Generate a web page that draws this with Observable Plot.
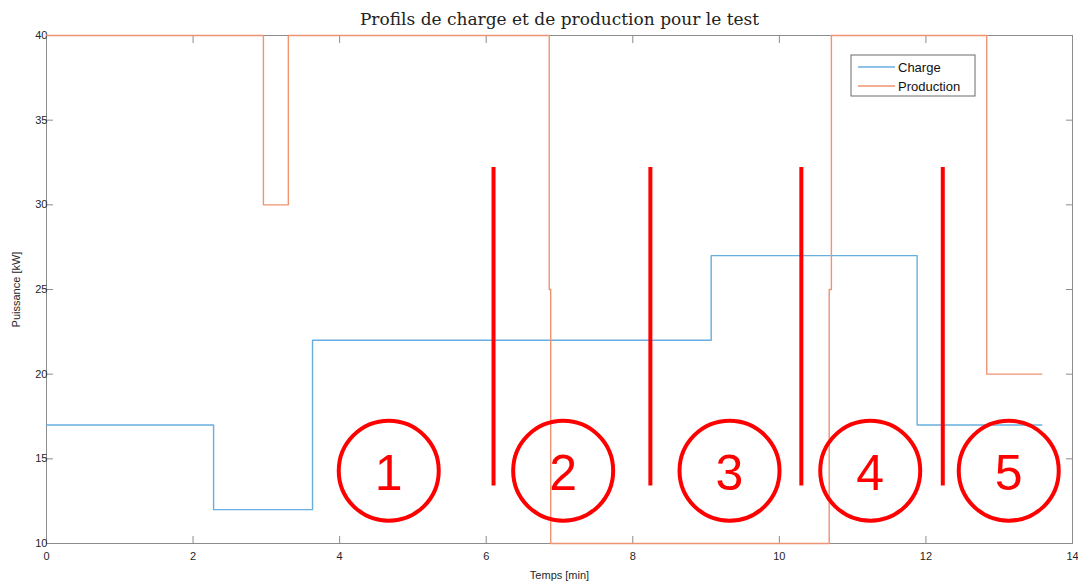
<!DOCTYPE html>
<html>
<head>
<meta charset="utf-8">
<script src="https://cdn.jsdelivr.net/npm/d3@7"></script>
<script src="https://cdn.jsdelivr.net/npm/@observablehq/plot@0.6"></script>
<style>
  html, body { margin: 0; padding: 0; background: #fff; }
  #chart { width: 1078px; height: 583px; }
</style>
</head>
<body>
<div id="chart"></div>
<script>
// ---- data ----
const chargeTime = [0, 2.28, 3.63, 9.07, 11.88, 13.58];
const chargeValue = [17, 12, 22, 27, 17, 17];
const prodTime = [0, 2.96, 3.30, 6.86, 6.88, 10.68, 10.71, 12.83, 13.58];
const prodValue = [40, 30, 40, 25, 10, 25, 40, 20, 20];
const seriesNames = ["Charge", "Production"];
const seriesColors = ["#68aee0", "#ee9473"];
const xTicks = [0, 2, 4, 6, 8, 10, 12, 14];
const yTicks = [10, 15, 20, 25, 30, 35, 40];
// annotation overlay (phases)
const phaseLineX = [6.10, 8.24, 10.30, 12.23];
const phaseLineY1 = 13.4, phaseLineY2 = 32.2;
const phaseCenterX = [4.67, 7.05, 9.32, 11.24, 13.13];
const phaseCenterY = 14.3;
const phaseLabels = ["1", "2", "3", "4", "5"];

const charge = chargeTime.map((t, i) => ({t, v: chargeValue[i]}));
const prod = prodTime.map((t, i) => ({t, v: prodValue[i]}));
const phaseLines = phaseLineX.map(x => ({x}));
const phases = phaseCenterX.map((x, i) => ({x, y: phaseCenterY, label: phaseLabels[i]}));

const axisColor = "#8c8c8c";
const textColor = "#262626";
const noLabel = () => "";

const plot = Plot.plot({
  width: 1078,
  height: 583,
  marginLeft: 46,
  marginRight: 6,
  marginTop: 35,
  marginBottom: 40,
  style: {fontFamily: "'Liberation Sans', Arial, sans-serif", fontSize: "11px", color: textColor, background: "#fff"},
  x: {domain: [0, 14], ticks: xTicks},
  y: {domain: [10, 40], ticks: yTicks},
  marks: [
    Plot.frame({stroke: axisColor, strokeWidth: 1}),
    Plot.axisX({ticks: xTicks, tickSize: -7, tickPadding: 16, stroke: axisColor, fill: textColor, fontSize: 11,
      label: "Temps [min]", labelAnchor: "center", labelArrow: "none", labelOffset: 35}),
    Plot.axisX({anchor: "top", ticks: xTicks, tickSize: -7, tickFormat: noLabel, stroke: axisColor, label: null}),
    Plot.axisY({ticks: yTicks, tickSize: -7, tickPadding: 6, stroke: axisColor, fill: textColor, fontSize: 11,
      label: "Puissance [kW]", labelAnchor: "center", labelArrow: "none", labelOffset: 34}),
    Plot.axisY({anchor: "right", ticks: yTicks, tickSize: -7, tickFormat: noLabel, stroke: axisColor, label: null}),
    Plot.line(charge, {x: "t", y: "v", curve: "step-after", stroke: seriesColors[0], strokeWidth: 1.4}),
    Plot.line(prod, {x: "t", y: "v", curve: "step-after", stroke: seriesColors[1], strokeWidth: 1.4}),
    Plot.ruleX(phaseLines, {x: "x", y1: phaseLineY1, y2: phaseLineY2, stroke: "#ff0000", strokeWidth: 4}),
    Plot.dot(phases, {x: "x", y: "y", r: 50, stroke: "#ff0000", strokeWidth: 4, fill: "none"}),
    Plot.text(phases, {x: "x", y: "y", text: "label", fill: "#ff0000", fontSize: 50, dy: 3,
      fontFamily: "'Liberation Sans', Arial, sans-serif"}),
    Plot.text(["Profils de charge et de production pour le test"], {frameAnchor: "top", dy: -23,
      fontFamily: "'DejaVu Serif', 'Liberation Serif', serif", fontSize: 17, fill: "#222"})
  ]
});

document.getElementById("chart").appendChild(plot);

// legend box (MATLAB style), inside plot area top-right
const svg = d3.select(plot);
const lg = svg.append("g").attr("transform", "translate(851,55)").attr("text-anchor", "start");
lg.append("rect").attr("width", 124).attr("height", 41).attr("fill", "#fff").attr("stroke", "#6b6b6b").attr("stroke-width", 1);
seriesNames.forEach((name, i) => {
  const yy = 12 + i * 19;
  lg.append("line").attr("x1", 7).attr("x2", 44).attr("y1", yy).attr("y2", yy)
    .attr("stroke", seriesColors[i]).attr("stroke-width", 1.4);
  lg.append("text").attr("x", 47).attr("y", yy).attr("dy", "0.35em").attr("text-anchor", "start")
    .attr("font-family", "'Liberation Sans', Arial, sans-serif").attr("font-size", 13)
    .attr("fill", "#111").text(name);
});
</script>
</body>
</html>
